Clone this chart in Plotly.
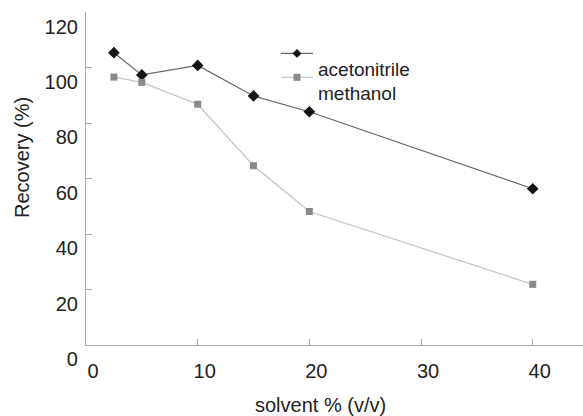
import plotly.graph_objects as go

solvent = [2.5, 5, 10, 15, 20, 40]
acetonitrile = [105.5, 97.5, 100.9, 89.9, 84.2, 56.4]
methanol = [96.7, 94.8, 86.9, 64.7, 48.2, 21.9]
series_names = ["acetonitrile", "methanol"]
x_ticks = [0, 10, 20, 30, 40]
y_ticks = [0, 20, 40, 60, 80, 100, 120]

FONT = "Liberation Sans, Arial, sans-serif"
TXT = "#222222"
W, H = 583, 416
L, R, T, B = 86, 0, 11.5, 70.5

fig = go.Figure()
fig.add_trace(go.Scatter(x=solvent, y=acetonitrile, mode="lines+markers",
                         name=series_names[0],
                         line=dict(color="#666666", width=1.2),
                         marker=dict(symbol="diamond", size=9, color="#151515")))
fig.add_trace(go.Scatter(x=solvent, y=methanol, mode="lines+markers",
                         name=series_names[1],
                         line=dict(color="#c4c4c4", width=1.2),
                         marker=dict(symbol="square", size=7, color="#8a8a8a")))

# manual legend (symbols sit slightly above their labels, as in the reference)
def px2paper_x(px):
    return (px - L) / (W - L - R)

def px2paper_y(py):
    return (H - B - py) / (H - T - B)

shapes = []
annotations = []
for i, (name, col, lcol) in enumerate([(series_names[0], "#151515", "#666666"),
                                        (series_names[1], "#8a8a8a", "#c4c4c4")]):
    sy = 53 + 24 * i
    shapes.append(dict(type="line", xref="paper", yref="paper",
                       x0=px2paper_x(281), x1=px2paper_x(313),
                       y0=px2paper_y(sy), y1=px2paper_y(sy),
                       line=dict(color=lcol, width=1.2)))
    if i == 0:
        path = "M {0},{1} L {2},{3} L {0},{4} L {5},{3} Z".format(
            px2paper_x(297), px2paper_y(sy - 4.5), px2paper_x(301.5), px2paper_y(sy),
            px2paper_y(sy + 4.5), px2paper_x(292.5))
        shapes.append(dict(type="path", xref="paper", yref="paper", path=path,
                           fillcolor=col, line=dict(width=0)))
    else:
        shapes.append(dict(type="rect", xref="paper", yref="paper",
                           x0=px2paper_x(293.5), x1=px2paper_x(300.5),
                           y0=px2paper_y(sy - 3.5), y1=px2paper_y(sy + 3.5),
                           fillcolor=col, line=dict(width=0)))
    annotations.append(dict(text=name, xref="paper", yref="paper",
                            x=px2paper_x(316), y=px2paper_y(69 + 24 * i),
                            xanchor="left", yanchor="middle", showarrow=False,
                            font=dict(family=FONT, size=19, color=TXT)))

annotations.append(dict(text="solvent % (v/v)", xref="paper", yref="paper",
                        x=px2paper_x(320), y=px2paper_y(406), xanchor="center",
                        yanchor="middle", showarrow=False,
                        font=dict(family=FONT, size=20, color=TXT)))
annotations.append(dict(text="Recovery (%)", xref="paper", yref="paper",
                        x=px2paper_x(22), y=px2paper_y(158), xanchor="center",
                        yanchor="middle", textangle=-90, showarrow=False,
                        font=dict(family=FONT, size=20, color=TXT)))

fig.update_layout(
    width=W, height=H,
    margin=dict(l=L, r=R, t=T, b=B),
    plot_bgcolor="white", paper_bgcolor="white",
    showlegend=False,
    shapes=shapes, annotations=annotations,
    xaxis=dict(range=[0, 44.5], tickvals=x_ticks, ticks="inside", ticklen=6,
               tickcolor="#aaaaaa", showline=True, linecolor="#aaaaaa",
               linewidth=1.2, showgrid=False, zeroline=False,
               tickfont=dict(family=FONT, size=20, color=TXT),
               ticklabelshift=7, ticklabelstandoff=8),
    yaxis=dict(range=[0, 120.2], tickvals=y_ticks, ticks="inside", ticklen=6,
               tickcolor="#aaaaaa", showline=True, linecolor="#aaaaaa",
               linewidth=1.2, showgrid=False, zeroline=False,
               tickfont=dict(family=FONT, size=20, color=TXT),
               ticklabelshift=14, ticklabelstandoff=3),
)

fig.write_html("out.html")
